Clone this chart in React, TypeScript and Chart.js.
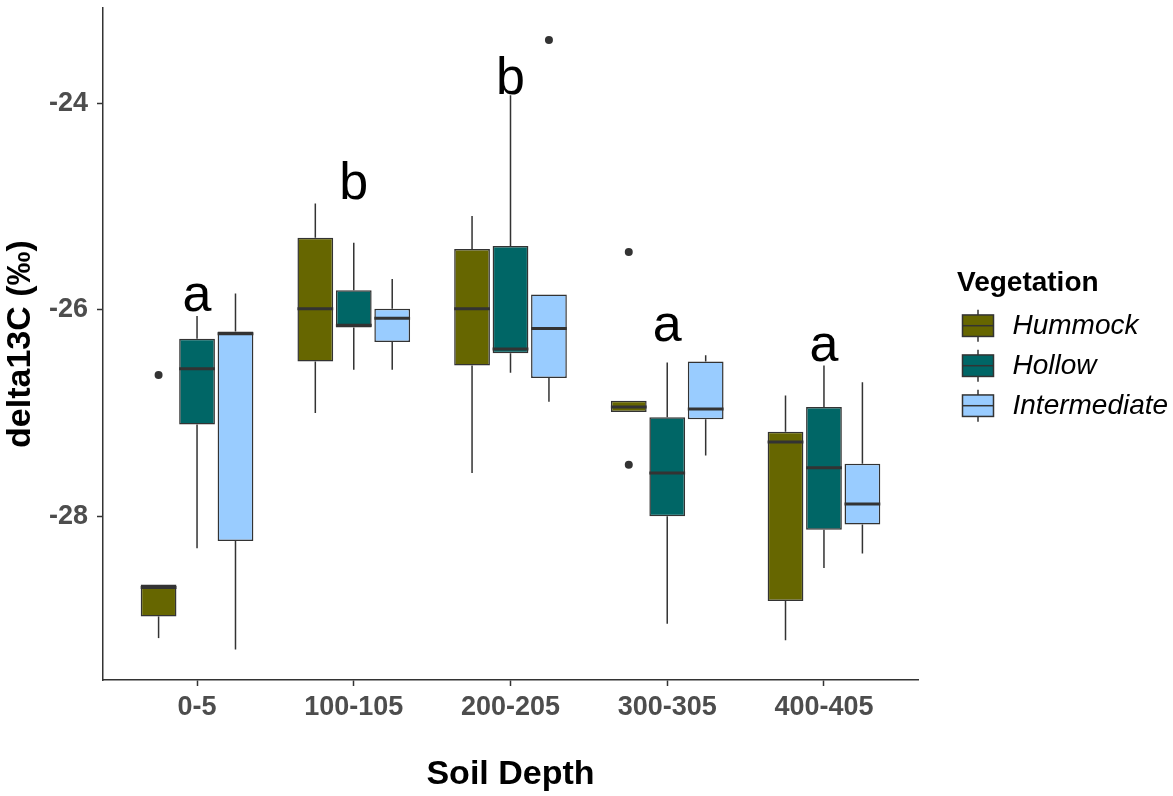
import React, { useEffect, useRef } from 'react';
import { Chart, registerables } from 'chart.js';

Chart.register(...registerables);

// ---- data ----
const categories = ['0-5', '100-105', '200-205', '300-305', '400-405'];
const seriesNames = ['Hummock', 'Hollow', 'Intermediate'];
const seriesColors = ['#666600', '#006666', '#99CCFF'];
const yTickValues = [-28, -26, -24];

const hummockLower = [-29.18, -27.0, -27.58, -26.99, -29.2];
const hummockQ1 = [-28.97, -26.5, -26.54, -26.99, -28.82];
const hummockMedian = [-28.69, -25.99, -25.99, -26.94, -27.28];
const hummockQ3 = [-28.66, -25.3, -25.41, -26.88, -27.18];
const hummockUpper = [-28.66, -24.97, -25.09, -26.88, -26.83];
const hummockOutliers = [[-26.63], [], [], [-25.44, -27.5], []];

const hollowLower = [-28.31, -26.58, -26.61, -29.04, -28.5];
const hollowQ1 = [-27.11, -26.17, -26.42, -28.0, -28.13];
const hollowMedian = [-26.57, -26.15, -26.38, -27.58, -27.53];
const hollowQ3 = [-26.28, -25.81, -25.38, -27.04, -26.94];
const hollowUpper = [-26.06, -25.35, -23.92, -26.51, -26.54];
const hollowOutliers = [[], [], [], [], []];

const interLower = [-29.29, -26.58, -26.89, -27.41, -28.36];
const interQ1 = [-28.24, -26.31, -26.66, -27.06, -28.08];
const interMedian = [-26.23, -26.08, -26.18, -26.96, -27.88];
const interQ3 = [-26.21, -25.99, -25.85, -26.5, -27.49];
const interUpper = [-25.84, -25.7, -25.85, -26.44, -26.7];
const interOutliers = [[], [], [-23.385], [], []];

const letterLabels = ['a', 'b', 'b', 'a', 'a'];
const letterValues = [-26.01, -24.925, -23.91, -26.3, -26.5];

const FONT = "'Liberation Sans', Arial, Helvetica, sans-serif";
const EDGE = '#333333';

export default function App() {
  const ref = useRef<HTMLCanvasElement>(null);

  useEffect(() => {
    const stats = [
      { lower: hummockLower, q1: hummockQ1, median: hummockMedian, q3: hummockQ3, upper: hummockUpper, outliers: hummockOutliers },
      { lower: hollowLower, q1: hollowQ1, median: hollowMedian, q3: hollowQ3, upper: hollowUpper, outliers: hollowOutliers },
      { lower: interLower, q1: interQ1, median: interMedian, q3: interQ3, upper: interUpper, outliers: interOutliers },
    ];

    const datasets = seriesNames.map((name, i) => ({
      label: name,
      data: categories.map((_, j) => ({ x: j + 1, y: [stats[i].q1[j], stats[i].q3[j]] })),
      backgroundColor: seriesColors[i],
      borderColor: EDGE,
      borderWidth: 1.5,
      borderSkipped: false as const,
      categoryPercentage: 0.736,
      barPercentage: 0.93,
    }));

    const boxPlugin = {
      id: 'boxParts',
      beforeDatasetsDraw(chart: any) {
        const ctx = chart.ctx;
        const y = chart.scales.y;
        ctx.save();
        ctx.strokeStyle = EDGE;
        ctx.lineWidth = 1.5;
        stats.forEach((s, i) => {
          const meta = chart.getDatasetMeta(i);
          meta.data.forEach((el: any, j: number) => {
            const x = el.x;
            ctx.beginPath();
            ctx.moveTo(x, y.getPixelForValue(s.q3[j]));
            ctx.lineTo(x, y.getPixelForValue(s.upper[j]));
            ctx.moveTo(x, y.getPixelForValue(s.q1[j]));
            ctx.lineTo(x, y.getPixelForValue(s.lower[j]));
            ctx.stroke();
          });
        });
        ctx.restore();
      },
      afterDatasetsDraw(chart: any) {
        const ctx = chart.ctx;
        const y = chart.scales.y;
        const xs = chart.scales.x;
        ctx.save();
        stats.forEach((s, i) => {
          const meta = chart.getDatasetMeta(i);
          meta.data.forEach((el: any, j: number) => {
            const x = el.x;
            const w = el.width;
            const my = y.getPixelForValue(s.median[j]);
            ctx.strokeStyle = EDGE;
            ctx.lineWidth = 3;
            ctx.beginPath();
            ctx.moveTo(x - w / 2, my);
            ctx.lineTo(x + w / 2, my);
            ctx.stroke();
            ctx.fillStyle = EDGE;
            s.outliers[j].forEach((v: number) => {
              ctx.beginPath();
              ctx.arc(x, y.getPixelForValue(v), 4, 0, Math.PI * 2);
              ctx.fill();
            });
          });
        });
        // significance letters
        ctx.fillStyle = '#000000';
        ctx.font = `52px ${FONT}`;
        ctx.textAlign = 'center';
        ctx.textBaseline = 'alphabetic';
        letterLabels.forEach((t, j) => {
          ctx.fillText(t, xs.getPixelForValue(j + 1), y.getPixelForValue(letterValues[j]));
        });
        ctx.restore();
      },
      afterDraw(chart: any) {
        // legend
        const ctx = chart.ctx;
        const left = chart.chartArea.right + 39;
        ctx.save();
        ctx.fillStyle = '#000000';
        ctx.font = `bold 28px ${FONT}`;
        ctx.textAlign = 'left';
        ctx.textBaseline = 'alphabetic';
        ctx.fillText('Vegetation', left, 291);
        seriesNames.forEach((name, i) => {
          const cy = 325.7 + i * 40;
          const bx = left + 5.5;
          const bw = 31;
          const bh = 21.5;
          ctx.strokeStyle = EDGE;
          ctx.lineWidth = 1.5;
          ctx.beginPath();
          ctx.moveTo(bx + bw / 2, cy - 16);
          ctx.lineTo(bx + bw / 2, cy + 16);
          ctx.stroke();
          ctx.fillStyle = seriesColors[i];
          ctx.fillRect(bx, cy - bh / 2, bw, bh);
          ctx.strokeRect(bx, cy - bh / 2, bw, bh);
          ctx.beginPath();
          ctx.moveTo(bx, cy);
          ctx.lineTo(bx + bw, cy);
          ctx.stroke();
          ctx.fillStyle = '#000000';
          ctx.font = `italic 28px ${FONT}`;
          ctx.textBaseline = 'middle';
          ctx.fillText(name, left + 55.5, cy + 1);
        });
        ctx.restore();
      },
    };

    const chart = new Chart(ref.current as HTMLCanvasElement, {
      type: 'bar',
      data: { datasets: datasets as any },
      plugins: [boxPlugin],
      options: {
        animation: false,
        responsive: false,
        maintainAspectRatio: false,
        layout: { padding: { top: 8, right: 255, left: 0, bottom: 0 } },
        plugins: { legend: { display: false }, tooltip: { enabled: false } },
        scales: {
          x: {
            type: 'linear',
            min: 0.4,
            max: 5.6,
            offset: false,
            afterBuildTicks(scale: any) {
              scale.ticks = categories.map((_, j) => ({ value: j + 1 }));
            },
            afterFit(scale: any) {
              scale.height = 116;
              scale.paddingLeft = 0;
              scale.paddingRight = 0;
            },
            ticks: {
              autoSkip: false,
              maxRotation: 0,
              minRotation: 0,
              padding: 5,
              color: '#4D4D4D',
              font: { family: FONT, size: 27, weight: 'bold' },
              callback: (v: any) => categories[Math.round(Number(v)) - 1] ?? '',
            },
            grid: { display: true, offset: false, drawOnChartArea: false, drawTicks: true, tickLength: 6, tickColor: EDGE, tickWidth: 1.5 },
            border: { display: true, color: EDGE, width: 1.5 },
            title: {
              display: true,
              text: 'Soil Depth',
              color: '#000000',
              font: { family: FONT, size: 34, weight: 'bold' },
              padding: { top: 0, bottom: 1 },
            },
          },
          y: {
            type: 'linear',
            min: -29.586,
            max: -23.075,
            afterBuildTicks(scale: any) {
              scale.ticks = yTickValues.map((v) => ({ value: v }));
            },
            afterFit(scale: any) {
              scale.width = 103;
              scale.paddingTop = 0;
              scale.paddingBottom = 0;
            },
            ticks: {
              padding: 9,
              color: '#4D4D4D',
              font: { family: FONT, size: 27, weight: 'bold' },
              callback: (v: any) => String(v),
            },
            grid: { display: true, drawOnChartArea: false, drawTicks: true, tickLength: 6, tickColor: EDGE, tickWidth: 1.5 },
            border: { display: true, color: EDGE, width: 1.5 },
            title: {
              display: true,
              text: 'delta13C (‰)',
              color: '#000000',
              font: { family: FONT, size: 34, weight: 'bold' },
              padding: { top: 0, bottom: 0 },
            },
          },
        },
      } as any,
    });
    return () => chart.destroy();
  }, []);

  return (
    <div style={{ position: 'fixed', left: 0, top: 0, width: 1173, height: 796, background: '#ffffff' }}>
      <canvas ref={ref} width={1173} height={796} style={{ display: 'block' }} />
    </div>
  );
}
